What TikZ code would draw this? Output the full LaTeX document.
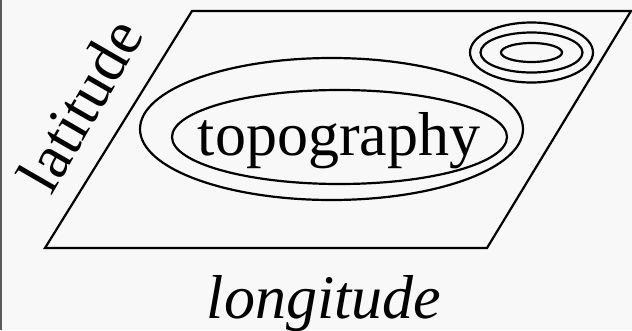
\documentclass[tikz,border=0pt]{standalone}
\usepackage{fontspec}
\setmainfont{Liberation Serif}
\definecolor{bgpaper}{RGB}{248,248,248}
\definecolor{edgegray}{RGB}{90,90,90}
\tikzset{
  contour/.style={draw=black, line width=2.2pt},
  bigtext/.style={inner sep=0pt, font=\fontsize{62}{70}\selectfont}
}
\begin{document}
\begin{tikzpicture}[x=1pt,y=-1pt]
  \useasboundingbox (0,0) rectangle (632,330);
  \fill[bgpaper] (0,0) rectangle (632,330);
  \draw[edgegray, line width=1.5pt] (0.75,0) -- (0.75,330);
  % plane
  \coordinate (bl) at (45,248);
  \coordinate (tl) at (192,11);
  \coordinate (tr) at (631,11);
  \coordinate (br) at (487,248);
  \draw[contour, line join=miter] (bl) -- (tl) -- (tr) -- (br) -- cycle;
  % large contours
  \draw[contour] (331.5,129) ellipse [x radius=191.5pt, y radius=71pt];
  \draw[contour] (339.5,137) ellipse [x radius=167.5pt, y radius=47pt];
  % small hill
  \draw[contour] (531.5,52.5) ellipse [x radius=61.5pt, y radius=30pt];
  \draw[contour] (531.5,52.5) ellipse [x radius=51pt, y radius=20pt];
  \draw[contour] (531.5,52.5) ellipse [x radius=30.5pt, y radius=9.5pt];
  % labels
  \node[bigtext, anchor=base] (topo) at (339,155) {topography};
  \node[bigtext, anchor=base] (lon) at (324,318) {\itshape longitude};
  \node[bigtext, rotate=60, anchor=center] (lat) at (80,105) {latitude};
\end{tikzpicture}
\end{document}
